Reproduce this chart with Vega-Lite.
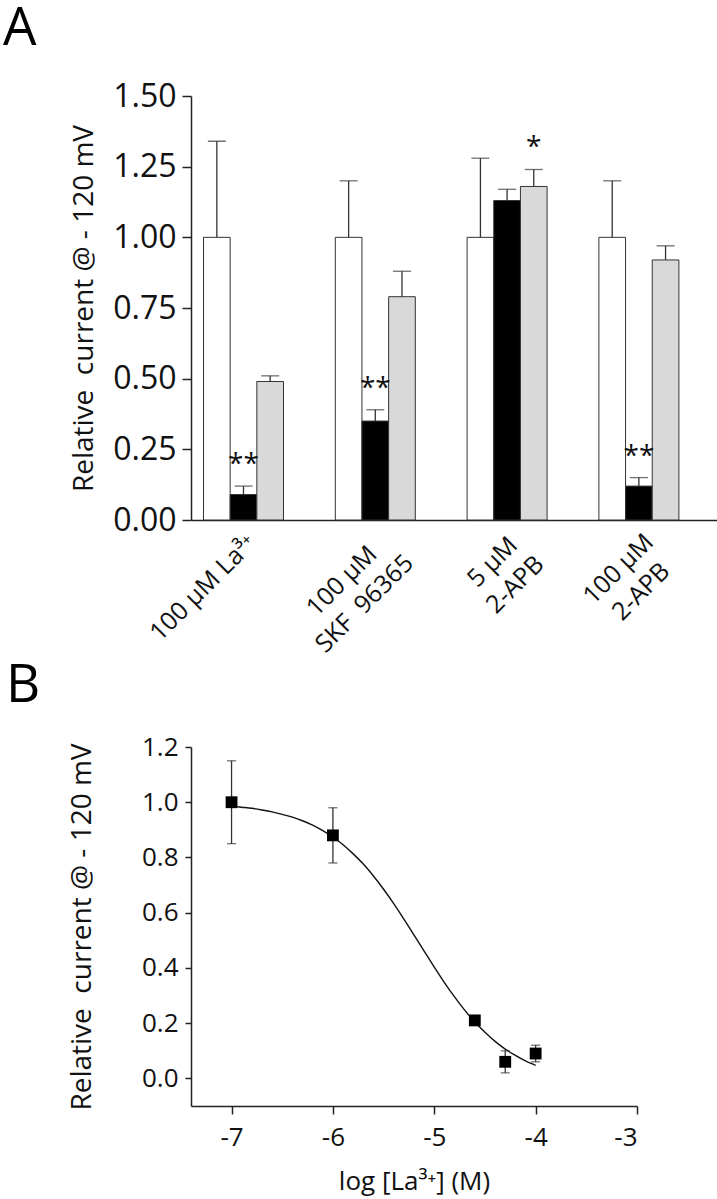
{
  "$schema": "https://vega.github.io/schema/vega-lite/v6.json",
  "padding": {"left": 3, "top": 3, "right": 0, "bottom": 4},
  "spacing": 3,
  "config": {
    "view": {"stroke": null},
    "font": "Open Sans",
    "axis": {
      "domainColor": "#222", "tickColor": "#222", "labelColor": "#111", "titleColor": "#111",
      "domainWidth": 1.5, "tickWidth": 1.5, "grid": false,
      "labelFont": "Open Sans", "titleFont": "Open Sans", "titleFontWeight": "normal"
    }
  },
  "datasets": {
    "bars": [
      {"treatment": "100 µM La³⁺", "series": "control", "value": 1.00, "err": 1.34, "sig": null},
      {"treatment": "100 µM La³⁺", "series": "drug", "value": 0.09, "err": 0.12, "sig": "**"},
      {"treatment": "100 µM La³⁺", "series": "washout", "value": 0.49, "err": 0.51, "sig": null},
      {"treatment": "100 µM|SKF\u00a0 96365", "series": "control", "value": 1.00, "err": 1.20, "sig": null},
      {"treatment": "100 µM|SKF\u00a0 96365", "series": "drug", "value": 0.35, "err": 0.39, "sig": "**"},
      {"treatment": "100 µM|SKF\u00a0 96365", "series": "washout", "value": 0.79, "err": 0.88, "sig": null},
      {"treatment": "5 µM|2-APB", "series": "control", "value": 1.00, "err": 1.28, "sig": null},
      {"treatment": "5 µM|2-APB", "series": "drug", "value": 1.13, "err": 1.17, "sig": null},
      {"treatment": "5 µM|2-APB", "series": "washout", "value": 1.18, "err": 1.24, "sig": "*"},
      {"treatment": "100 µM|2-APB", "series": "control", "value": 1.00, "err": 1.20, "sig": null},
      {"treatment": "100 µM|2-APB", "series": "drug", "value": 0.12, "err": 0.15, "sig": "**"},
      {"treatment": "100 µM|2-APB", "series": "washout", "value": 0.92, "err": 0.97, "sig": null}
    ],
    "points": [
      {"logLa": -7.0, "current": 1.00, "lo": 0.85, "hi": 1.15},
      {"logLa": -6.0, "current": 0.88, "lo": 0.78, "hi": 0.98},
      {"logLa": -4.6, "current": 0.21, "lo": 0.20, "hi": 0.22},
      {"logLa": -4.3, "current": 0.06, "lo": 0.02, "hi": 0.10},
      {"logLa": -4.0, "current": 0.09, "lo": 0.06, "hi": 0.12}
    ],
    "curve": [
      {"logLa": -7.0, "current": 0.986}, {"logLa": -6.9, "current": 0.982}, {"logLa": -6.8, "current": 0.978},
      {"logLa": -6.7, "current": 0.972}, {"logLa": -6.6, "current": 0.965}, {"logLa": -6.5, "current": 0.956},
      {"logLa": -6.4, "current": 0.946}, {"logLa": -6.3, "current": 0.933}, {"logLa": -6.2, "current": 0.917},
      {"logLa": -6.1, "current": 0.897}, {"logLa": -6.0, "current": 0.874}, {"logLa": -5.9, "current": 0.846},
      {"logLa": -5.8, "current": 0.813}, {"logLa": -5.7, "current": 0.776}, {"logLa": -5.6, "current": 0.733},
      {"logLa": -5.5, "current": 0.685}, {"logLa": -5.4, "current": 0.633}, {"logLa": -5.3, "current": 0.577},
      {"logLa": -5.2, "current": 0.519}, {"logLa": -5.1, "current": 0.461}, {"logLa": -5.0, "current": 0.403},
      {"logLa": -4.9, "current": 0.347}, {"logLa": -4.8, "current": 0.295}, {"logLa": -4.7, "current": 0.247},
      {"logLa": -4.6, "current": 0.204}, {"logLa": -4.5, "current": 0.167}, {"logLa": -4.4, "current": 0.134},
      {"logLa": -4.3, "current": 0.106}, {"logLa": -4.2, "current": 0.083}, {"logLa": -4.1, "current": 0.063},
      {"logLa": -4.0, "current": 0.047}
    ]
  },
  "vconcat": [
    {
      "width": 526,
      "height": 424,
      "title": {"text": "A", "anchor": "start", "frame": "group", "dx": -188, "offset": -29, "baseline": "bottom", "fontSize": 53, "font": "Open Sans", "fontWeight": "normal", "color": "#000"},
      "data": {"name": "bars"},
      "encoding": {
        "x": {
          "field": "treatment", "type": "nominal", "sort": null, "title": null,
          "scale": {"paddingInner": 0.393, "paddingOuter": 0.192, "align": 0.247},
          "axis": {
            "ticks": false, "tickSize": 0,
            "labelExpr": "split(datum.value, '|')",
            "labelAngle": -45, "labelAlign": "center", "labelBaseline": "top",
            "labelFontSize": 25, "labelLineHeight": 32, "labelOverlap": false, "labelLimit": 400,
            "labelOffset": {"condition": [
              {"test": "datum.value === '100 µM La³⁺'", "value": -49},
              {"test": "datum.value === '100 µM|SKF\u00a0 96365'", "value": -42},
              {"test": "datum.value === '5 µM|2-APB'", "value": -23}
            ], "value": -29},
            "labelPadding": {"condition": [
              {"test": "datum.value === '100 µM La³⁺'", "value": 59},
              {"test": "datum.value === '100 µM|SKF\u00a0 96365'", "value": 52},
              {"test": "datum.value === '5 µM|2-APB'", "value": 33}
            ], "value": 40}
          }
        },
        "xOffset": {"field": "series", "type": "nominal", "sort": ["control", "drug", "washout"], "scale": {"paddingInner": 0, "paddingOuter": 0}}
      },
      "layer": [
        {
          "mark": {"type": "bar", "stroke": "#333", "strokeWidth": 1},
          "encoding": {
            "y": {
              "field": "value", "type": "quantitative", "title": "Relative\u00a0 current @ - 120 mV",
              "scale": {"domain": [0, 1.5], "nice": false, "zero": true},
              "axis": {"values": [0, 0.25, 0.5, 0.75, 1.0, 1.25, 1.5], "format": ".2f", "labelFontSize": 32, "tickSize": 9, "labelPadding": 6, "titleFontSize": 28, "titlePadding": 14, "title": "Relative\u00a0 current @ - 120 mV"}
            },
            "fill": {"field": "series", "type": "nominal", "scale": {"domain": ["control", "drug", "washout"], "range": ["#ffffff", "#000000", "#d9d9d9"]}, "legend": null}
          }
        },
        {
          "mark": {"type": "rule", "color": "#333", "strokeWidth": 1.3},
          "encoding": {
            "y": {"field": "value", "type": "quantitative", "title": "Relative\u00a0 current @ - 120 mV"},
            "y2": {"field": "err"}
          }
        },
        {
          "mark": {"type": "tick", "color": "#333", "thickness": 1.3, "size": 18, "orient": "horizontal"},
          "encoding": {
            "y": {"field": "err", "type": "quantitative", "title": "Relative\u00a0 current @ - 120 mV"}
          }
        },
        {
          "transform": [{"filter": "datum.sig != null"}],
          "mark": {"type": "text", "fontSize": 28, "dy": -21, "baseline": "middle", "align": "center", "font": "Open Sans", "color": "#111"},
          "encoding": {
            "y": {"field": "err", "type": "quantitative", "title": "Relative\u00a0 current @ - 120 mV"},
            "text": {"field": "sig"}
          }
        }
      ]
    },
    {
      "width": 446,
      "height": 359,
      "title": {"text": "B", "anchor": "start", "frame": "group", "dx": -185, "offset": -32, "baseline": "bottom", "fontSize": 53, "font": "Open Sans", "fontWeight": "normal", "color": "#000"},
      "layer": [
        {
          "data": {"name": "curve"},
          "mark": {"type": "line", "color": "#111", "strokeWidth": 1.4, "interpolate": "monotone"},
          "encoding": {
            "x": {
              "field": "logLa", "type": "quantitative", "title": "log [La³⁺] (M)",
              "scale": {"domain": [-7.4, -3], "nice": false, "zero": false},
              "axis": {"values": [-7, -6, -5, -4, -3], "labelExpr": "'' + datum.value", "labelFontSize": 26, "tickSize": 8, "labelPadding": 10, "titleFontSize": 26, "titlePadding": 18, "title": "log [La³⁺] (M)"}
            },
            "y": {
              "field": "current", "type": "quantitative", "title": "Relative\u00a0 current @ - 120 mV",
              "scale": {"domain": [-0.1, 1.2], "nice": false, "zero": false},
              "axis": {"values": [0, 0.2, 0.4, 0.6, 0.8, 1.0, 1.2], "format": ".1f", "labelFontSize": 26, "tickSize": 6, "labelPadding": 7, "titleFontSize": 28, "titlePadding": 45, "title": "Relative\u00a0 current @ - 120 mV"}
            }
          }
        },
        {
          "data": {"name": "points"},
          "mark": {"type": "rule", "color": "#333", "strokeWidth": 1.3},
          "encoding": {
            "x": {"field": "logLa", "type": "quantitative", "title": "log [La³⁺] (M)"},
            "y": {"field": "lo", "type": "quantitative", "title": "Relative\u00a0 current @ - 120 mV"},
            "y2": {"field": "hi"}
          }
        },
        {
          "data": {"name": "points"},
          "mark": {"type": "tick", "color": "#333", "thickness": 1.3, "size": 9, "orient": "horizontal"},
          "encoding": {
            "x": {"field": "logLa", "type": "quantitative", "title": "log [La³⁺] (M)"},
            "y": {"field": "lo", "type": "quantitative", "title": "Relative\u00a0 current @ - 120 mV"}
          }
        },
        {
          "data": {"name": "points"},
          "mark": {"type": "tick", "color": "#333", "thickness": 1.3, "size": 9, "orient": "horizontal"},
          "encoding": {
            "x": {"field": "logLa", "type": "quantitative", "title": "log [La³⁺] (M)"},
            "y": {"field": "hi", "type": "quantitative", "title": "Relative\u00a0 current @ - 120 mV"}
          }
        },
        {
          "data": {"name": "points"},
          "mark": {"type": "point", "shape": "square", "filled": true, "size": 140, "color": "#000", "opacity": 1},
          "encoding": {
            "x": {"field": "logLa", "type": "quantitative", "title": "log [La³⁺] (M)"},
            "y": {"field": "current", "type": "quantitative", "title": "Relative\u00a0 current @ - 120 mV"}
          }
        }
      ]
    }
  ]
}
